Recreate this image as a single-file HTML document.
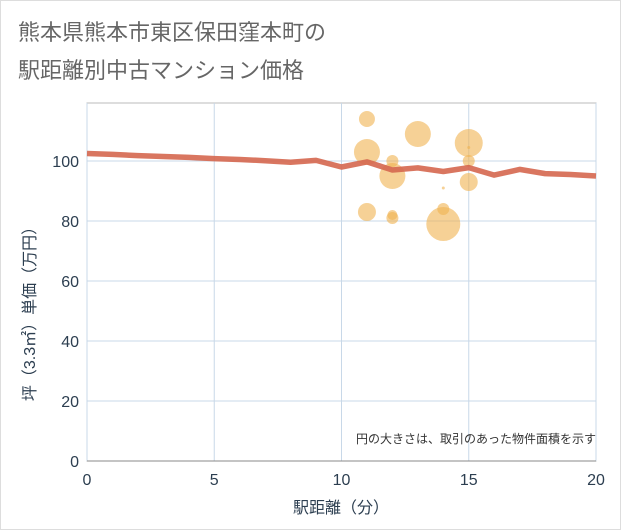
<!DOCTYPE html>
<html><head><meta charset="utf-8"><style>
body{margin:0;background:#fff;}
svg{display:block;font-family:"Liberation Sans","Noto Sans CJK JP",sans-serif;}
</style></head><body>
<svg id="c" width="621" height="530">
<rect x="0.5" y="0.5" width="620" height="529" fill="#fff" stroke="#ddd"/>
<text x="18" y="40" font-size="22" fill="#666">熊本県熊本市東区保田窪本町の</text>
<text x="18" y="78" font-size="22" fill="#666">駅距離別中古マンション価格</text>
<g id="plot"></g>
<text x="596" y="443" font-size="12" fill="#333" text-anchor="end">円の大きさは、取引のあった物件面積を示す</text>
<text x="341" y="513" font-size="16" fill="#2c3e50" text-anchor="middle">駅距離（分）</text>
<text transform="translate(35,310) rotate(-90)" font-size="16" fill="#2c3e50" text-anchor="middle">坪（3.3㎡）単価（万円）</text>
</svg>
<script>
const xTicks=[0,5,10,15,20];
const yTicks=[0,20,40,60,80,100];
const lineX=[0,1,2,3,4,5,6,7,8,9,10,11,12,13,14,15,16,17,18,19,20];
const lineY=[102.5,102.2,101.8,101.5,101.2,100.8,100.5,100.1,99.6,100.2,98,99.7,97,97.7,96.5,97.8,95.3,97.2,95.8,95.5,95];
const bubX=[11,11,12,12,13,15,15,15,15,11,12,12,14,14,14];
const bubY=[114,103,100,95,109,106,100,104.5,93,83,82,81,84,79,91];
const bubR=[8,13,6,13,13,14,6,1.5,9,9,5,6,6,17,1.5];
const X0=87,X1=596,Y0=461,Y1=103;
const sx=v=>X0+(v/20)*(X1-X0);
const sy=v=>Y0-v*3;
const NS="http://www.w3.org/2000/svg";
const g=document.getElementById('plot');
function mk(t,a){const e=document.createElementNS(NS,t);for(const k in a)e.setAttribute(k,a[k]);g.appendChild(e);return e;}
const bg=mk('rect',{x:X0,y:Y1,width:X1-X0,height:Y0-Y1,fill:'#fff',stroke:'#bbb'});


xTicks.forEach(t=>{
 const l=mk('line',{x1:sx(t),x2:sx(t),y1:Y1,y2:Y0,stroke:'#c8d8e8'});
 
 
 const tx=mk('text',{x:sx(t),y:Y0+24,'font-size':16,fill:'#2c3e50','text-anchor':'middle'});tx.textContent=t;
 
 
});
yTicks.forEach(t=>{
 const l=mk('line',{x1:X0,x2:X1,y1:sy(t),y2:sy(t),stroke:'#c8d8e8'});
 
 
 const tx=mk('text',{x:X0-8,y:sy(t)+6,'font-size':16,fill:'#2c3e50','text-anchor':'end'});tx.textContent=t;
 
 
});
mk('line',{x1:X0,x2:X1,y1:Y0,y2:Y0,stroke:'#888'});
bubX.forEach((x,i)=>{
 const c=mk('circle',{cx:sx(x),cy:sy(bubY[i]),r:bubR[i],fill:'#f0b350','fill-opacity':0.6});
 
 
});
const p=mk('polyline',{points:lineX.map((x,i)=>sx(x)+','+sy(lineY[i])).join(' '),fill:'none',stroke:'#d5674f','stroke-width':5.5,'stroke-opacity':0.9,'stroke-linejoin':'round'});


</script>
</body></html>
